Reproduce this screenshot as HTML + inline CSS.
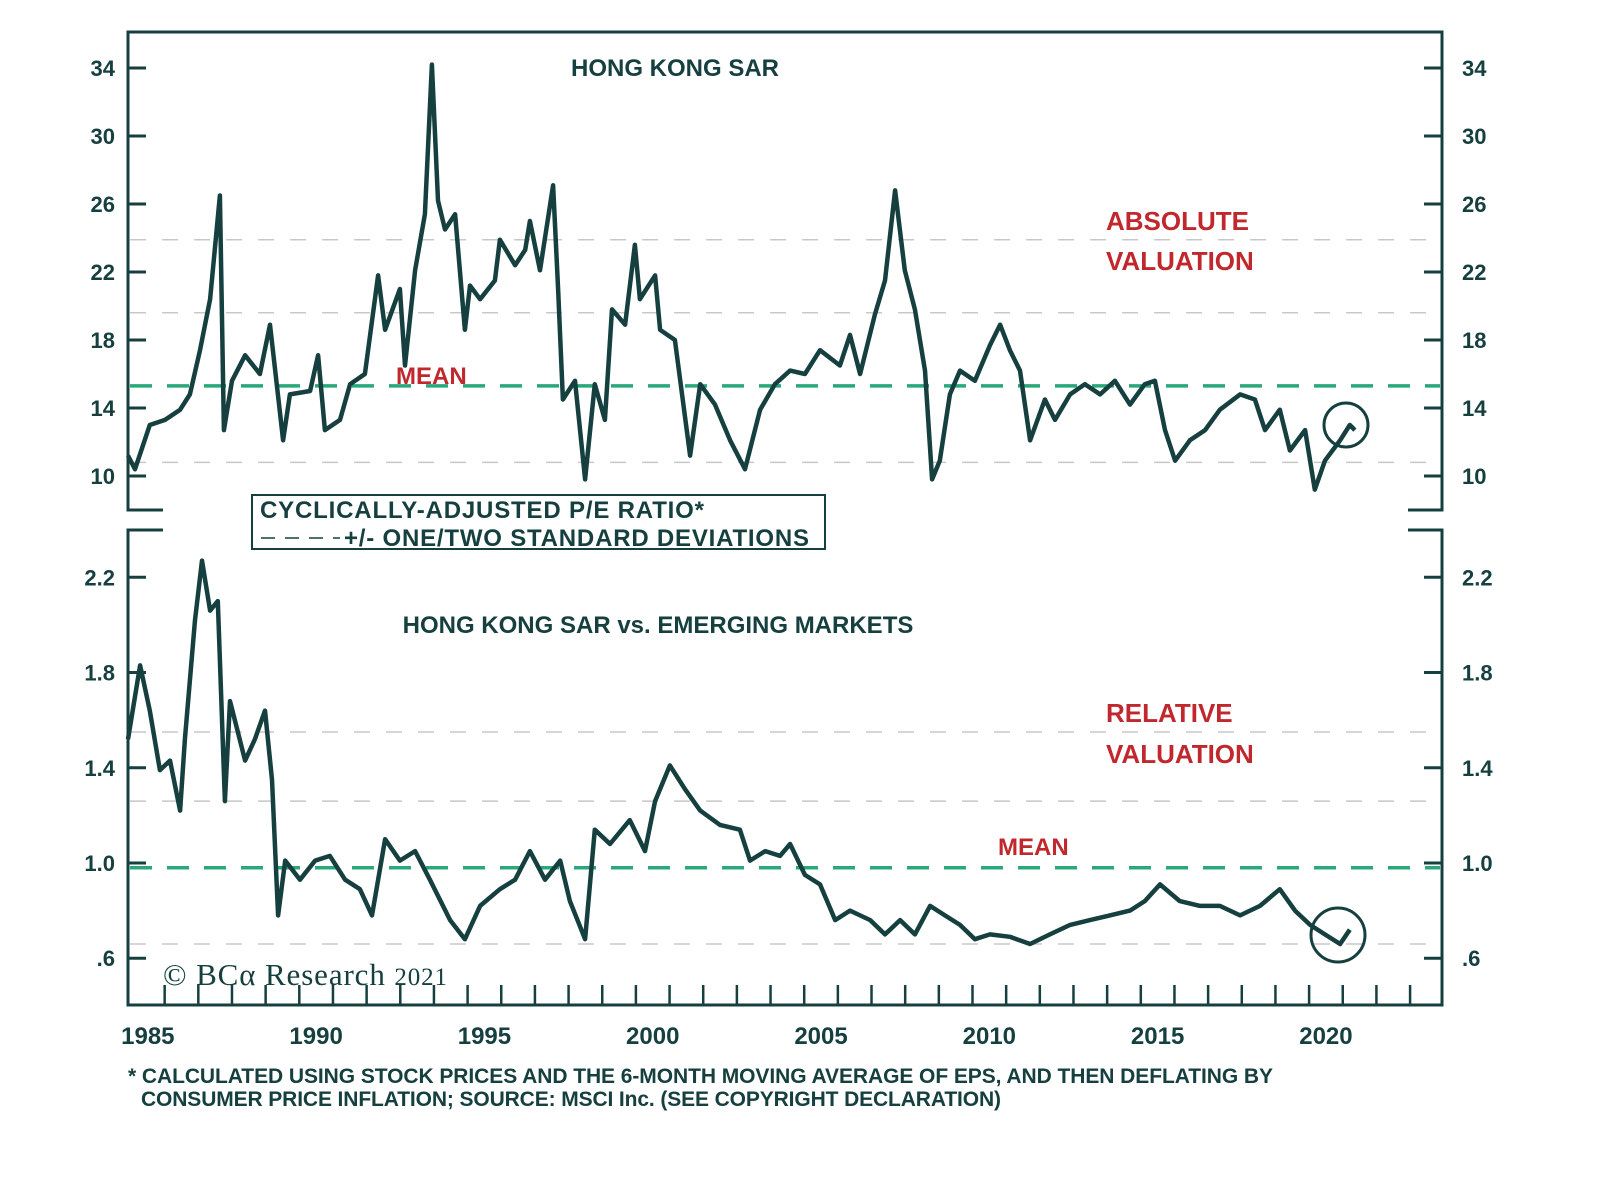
<!DOCTYPE html>
<html><head><meta charset="utf-8"><style>
body{margin:0;background:#fff;}
svg text{font-family:"Liberation Sans",sans-serif;}
</style></head><body>
<svg id="chart" width="1600" height="1174" viewBox="0 0 1600 1174" xmlns="http://www.w3.org/2000/svg">
<rect width="1600" height="1174" fill="#fff"/>
<g id="grid"></g>
<g id="series"></g>
<g id="frame" stroke="#16403f" stroke-width="3" fill="none">
 <path d="M163,510 H128 V32 H1442 V510 H1408"/>
 <path d="M163,530 H128 V1005 H1442 V530 H1408"/>
</g>
<g id="ticks"></g>
<g font-weight="bold" fill="#16403f">
 <text x="675" y="76" font-size="24" text-anchor="middle">HONG KONG SAR</text>
 <text x="658" y="633" font-size="24" text-anchor="middle">HONG KONG SAR vs. EMERGING MARKETS</text>
</g>
<g fill="#c0282d" font-size="26" font-weight="bold">
 <text x="1106" y="230">ABSOLUTE</text>
 <text x="1106" y="270">VALUATION</text>
 <text x="1106" y="722">RELATIVE</text>
 <text x="1106" y="763">VALUATION</text>
 <text x="396" y="384" font-size="24">MEAN</text>
 <text x="998" y="855" font-size="24">MEAN</text>
</g>
<circle cx="1346" cy="425" r="22" fill="none" stroke="#16403f" stroke-width="3"/>
<circle cx="1338" cy="935" r="27" fill="none" stroke="#16403f" stroke-width="3"/>
<g>
 <rect x="252" y="495" width="573" height="54" fill="#fff" stroke="#16403f" stroke-width="2"/>
 <text x="260" y="518" font-size="24" font-weight="bold" fill="#16403f" textLength="444">CYCLICALLY-ADJUSTED P/E RATIO*</text>
 <line x1="261" y1="538" x2="340" y2="538" stroke="#16403f" stroke-width="1.5" stroke-dasharray="14,10"/>
 <text x="344" y="546" font-size="24" font-weight="bold" fill="#16403f" textLength="465">+/- ONE/TWO STANDARD DEVIATIONS</text>
</g>
<text x="163" y="985" style="font-family:'Liberation Serif',serif" font-size="31" fill="#16403f" textLength="284">© BCα Research <tspan font-size="25">2021</tspan></text>
<g font-size="21" font-weight="bold" fill="#16403f">
 <text x="128" y="1083" textLength="1145">* CALCULATED USING STOCK PRICES AND THE 6-MONTH MOVING AVERAGE OF EPS, AND THEN DEFLATING BY</text>
 <text x="141" y="1106" textLength="860">CONSUMER PRICE INFLATION; SOURCE: MSCI Inc. (SEE COPYRIGHT DECLARATION)</text>
</g>
</svg>
<script>
const topDates=[1984.91,1985.12,1985.56,1986.01,1986.46,1986.75,1987.05,1987.35,1987.64,1987.76,1988.0,1988.39,1988.83,1989.13,1989.52,1989.72,1990.32,1990.56,1990.76,1991.21,1991.51,1991.95,1992.34,1992.55,1992.99,1993.14,1993.44,1993.73,1993.94,1994.12,1994.33,1994.63,1994.92,1995.07,1995.37,1995.81,1995.96,1996.41,1996.71,1996.85,1997.15,1997.54,1997.69,1997.83,1998.19,1998.49,1998.78,1999.08,1999.29,1999.68,1999.97,2000.12,2000.57,2000.72,2001.16,2001.61,2001.91,2002.35,2002.80,2003.24,2003.69,2004.13,2004.58,2005.02,2005.47,2006.06,2006.36,2006.66,2007.10,2007.40,2007.70,2007.99,2008.29,2008.59,2008.80,2009.03,2009.33,2009.63,2010.07,2010.52,2010.82,2011.11,2011.41,2011.71,2012.15,2012.45,2012.90,2013.34,2013.79,2014.23,2014.68,2015.12,2015.42,2015.72,2016.02,2016.46,2016.91,2017.35,2017.95,2018.39,2018.69,2019.13,2019.43,2019.88,2020.17,2020.47,2020.92,2021.21,2021.36];
const topValues=[11.2,10.4,13.0,13.3,13.9,14.8,17.4,20.4,26.5,12.7,15.6,17.1,16.0,18.9,12.1,14.8,15.0,17.1,12.7,13.3,15.4,16.0,21.8,18.6,21.0,16.5,22.1,25.4,34.2,26.2,24.5,25.4,18.6,21.2,20.4,21.5,23.9,22.4,23.3,25.0,22.1,27.1,21.0,14.5,15.6,9.8,15.4,13.3,19.8,18.9,23.6,20.4,21.8,18.6,18.0,11.2,15.4,14.2,12.1,10.4,13.9,15.4,16.2,16.0,17.4,16.5,18.3,16.0,19.5,21.5,26.8,22.1,19.8,16.2,9.8,10.9,14.8,16.2,15.6,17.7,18.9,17.4,16.2,12.1,14.5,13.3,14.8,15.4,14.8,15.6,14.2,15.4,15.6,12.7,10.9,12.1,12.7,13.9,14.8,14.5,12.7,13.9,11.5,12.7,9.2,10.9,12.1,13.0,12.7];
const botDates=[1984.91,1985.27,1985.56,1985.86,1986.16,1986.46,1986.60,1986.90,1987.11,1987.35,1987.58,1987.79,1987.94,1988.39,1988.68,1988.98,1989.19,1989.37,1989.58,1990.02,1990.47,1990.91,1991.36,1991.80,1992.16,1992.55,1992.99,1993.44,1993.88,1994.48,1994.92,1995.37,1995.96,1996.41,1996.85,1997.30,1997.75,1998.04,1998.49,1998.78,1999.23,1999.82,2000.27,2000.57,2001.01,2001.46,2001.91,2002.50,2003.09,2003.39,2003.84,2004.28,2004.58,2005.02,2005.47,2005.92,2006.36,2006.96,2007.40,2007.85,2008.29,2008.74,2009.18,2009.63,2010.07,2010.52,2011.11,2011.71,2012.30,2012.90,2013.49,2014.08,2014.68,2015.12,2015.57,2016.16,2016.76,2017.35,2017.95,2018.54,2019.13,2019.58,2020.03,2020.47,2020.92,2021.21];
const botValues=[1.52,1.83,1.64,1.39,1.43,1.22,1.52,2.02,2.27,2.06,2.10,1.26,1.68,1.43,1.52,1.64,1.35,0.78,1.01,0.93,1.01,1.03,0.93,0.89,0.78,1.10,1.01,1.05,0.93,0.76,0.68,0.82,0.89,0.93,1.05,0.93,1.01,0.84,0.68,1.14,1.08,1.18,1.05,1.26,1.41,1.31,1.22,1.16,1.14,1.01,1.05,1.03,1.08,0.95,0.91,0.76,0.80,0.76,0.70,0.76,0.70,0.82,0.78,0.74,0.68,0.70,0.69,0.66,0.70,0.74,0.76,0.78,0.80,0.84,0.91,0.84,0.82,0.82,0.78,0.82,0.89,0.80,0.74,0.70,0.66,0.72];
const topTicks=[10,14,18,22,26,30,34];
const botTicks=[0.6,1.0,1.4,1.8,2.2];
const botTickLabels=[".6","1.0","1.4","1.8","2.2"];
const yearLabels=[1985,1990,1995,2000,2005,2010,2015,2020];
const topSD=[10.8,19.6,23.9];
const topMean=[15.3];
const botSD=[0.66,1.26,1.55];
const botMean=[0.98];

const NS="http://www.w3.org/2000/svg";
const xS=yr=>131+(yr-1985)*33.66;
const yTop=v=>476-(v-10)*17;
const yBot=v=>863-(v-1)*238.1;
function mk(tag,attrs,parent){const e=document.createElementNS(NS,tag);for(const k in attrs)e.setAttribute(k,attrs[k]);parent.appendChild(e);return e;}
const grid=document.getElementById('grid'),ser=document.getElementById('series'),tk=document.getElementById('ticks');
topSD.forEach(v=>{const l=mk('line',{x1:130,x2:1440,y1:yTop(v),y2:yTop(v),stroke:'#c8c8c8','stroke-width':1.5,'stroke-dasharray':'16,16'},grid);

});
botSD.forEach(v=>{const l=mk('line',{x1:130,x2:1440,y1:yBot(v),y2:yBot(v),stroke:'#c8c8c8','stroke-width':1.5,'stroke-dasharray':'16,16'},grid);

});
topMean.forEach(v=>{const l=mk('line',{x1:130,x2:1440,y1:yTop(v),y2:yTop(v),stroke:'#2aa87a','stroke-width':3.5,'stroke-dasharray':'22,15'},ser);

});
botMean.forEach(v=>{const l=mk('line',{x1:130,x2:1440,y1:yBot(v),y2:yBot(v),stroke:'#2aa87a','stroke-width':3.5,'stroke-dasharray':'22,15'},ser);

});
let d=topDates.map((t,i)=>(i?'L':'M')+xS(t).toFixed(1)+','+yTop(topValues[i]).toFixed(1)).join('');
const p1=mk('path',{d:d,fill:'none',stroke:'#16403f','stroke-width':4.5,'stroke-linejoin':'round'},ser);


d=botDates.map((t,i)=>(i?'L':'M')+xS(t).toFixed(1)+','+yBot(botValues[i]).toFixed(1)).join('');
const p2=mk('path',{d:d,fill:'none',stroke:'#16403f','stroke-width':4.5,'stroke-linejoin':'round'},ser);


const tcol='#16403f';
topTicks.forEach(v=>{const y=yTop(v);
mk('line',{x1:128,x2:146,y1:y,y2:y,stroke:tcol,'stroke-width':3},tk);
mk('line',{x1:1424,x2:1442,y1:y,y2:y,stroke:tcol,'stroke-width':3},tk);
const a=mk('text',{x:115,y:y+8,'text-anchor':'end','font-size':22,'font-weight':'bold',fill:tcol},tk);a.textContent=v;


const b=mk('text',{x:1462,y:y+8,'font-size':22,'font-weight':'bold',fill:tcol},tk);b.textContent=v;

});
botTicks.forEach((v,i)=>{const y=yBot(v);
mk('line',{x1:128,x2:146,y1:y,y2:y,stroke:tcol,'stroke-width':3},tk);
mk('line',{x1:1424,x2:1442,y1:y,y2:y,stroke:tcol,'stroke-width':3},tk);
const a=mk('text',{x:115,y:y+8,'text-anchor':'end','font-size':22,'font-weight':'bold',fill:tcol},tk);a.textContent=botTickLabels[i];


const b=mk('text',{x:1462,y:y+8,'font-size':22,'font-weight':'bold',fill:tcol},tk);b.textContent=botTickLabels[i];

});
for(let yr=1986;yr<=2023;yr++){const x=xS(yr);mk('line',{x1:x,x2:x,y1:985,y2:1005,stroke:tcol,'stroke-width':2.5},tk);}
yearLabels.forEach(yr=>{const t=mk('text',{x:xS(yr+0.5),y:1044,'text-anchor':'middle','font-size':24,'font-weight':'bold',fill:tcol},tk);t.textContent=yr;

});
</script>
</body></html>
